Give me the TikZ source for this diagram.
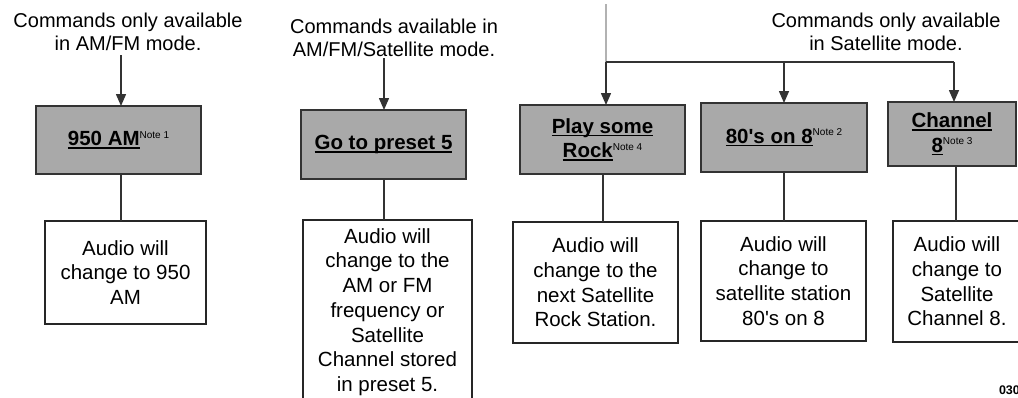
\documentclass[tikz,border=0pt]{standalone}
\usepackage{fontspec}
\setmainfont{Liberation Sans}
\usetikzlibrary{arrows.meta}
\definecolor{headfill}{HTML}{A9A9A9}
\definecolor{lineclr}{HTML}{333333}
\newcommand\myul[1]{\setbox0\hbox{#1}\rlap{\raisebox{-3pt}{\rule{\wd0}{1.6pt}}}\box0}
\newcommand\mynote[1]{\raisebox{7.5pt}{\fontsize{10}{10}\selectfont\mdseries Note #1}}
\tikzset{
  every node/.style={inner sep=0pt, outer sep=0pt},
  headbox/.style={draw=lineclr, line width=1.5pt, fill=headfill, align=center,
    font=\fontsize{20.5}{24.5}\selectfont\bfseries},
  resbox/.style={draw=black!85, line width=1.3pt, fill=white, align=center,
    font=\fontsize{20.5}{24.7}\selectfont},
  caption/.style={align=center, font=\fontsize{20}{23}\selectfont, anchor=base},
  conn/.style={draw=lineclr, line width=1.5pt},
  arr/.style={conn, -{Triangle[width=10pt,length=12pt]}},
}
\begin{document}
\begin{tikzpicture}[x=1pt,y=-1pt]
\useasboundingbox (0,0) rectangle (1018,397);
\clip (0,0) rectangle (1018,397);

% captions (anchor base = last line's baseline)
\node[caption] (t1) at (128,50) {Commands only available\\in AM/FM mode.};
\node[caption] (t2) at (394,56) {Commands available in\\AM/FM/Satellite mode.};
\node[caption] (t3) at (886,50) {Commands only available\\in Satellite mode.};

% heading boxes
\node[headbox, minimum width=165pt, minimum height=68pt] (h1) at (118.5,140) {\myul{950 AM}\mynote{1}};
\node[headbox, minimum width=165pt, minimum height=69pt] (h2) at (383.5,144.5) {\myul{Go to preset 5}};
\node[headbox, minimum width=165pt, minimum height=69pt] (h3) at (602.5,139.5) {\myul{Play some}\\\myul{Rock}\mynote{4}};
\node[headbox, minimum width=166pt, minimum height=69pt] (h4) at (784,137.5) {\myul{80\textquotesingle s on 8}\mynote{2}};
\node[headbox, minimum width=128pt, minimum height=64pt] (h5) at (952,134) {\myul{Channel}\\\myul{8}\mynote{3}};

% result boxes
\node[resbox, minimum width=161pt, minimum height=103pt] (r1) at (125.5,272.5) {Audio will\\change to 950\\AM};
\node[resbox, minimum width=169pt, minimum height=184pt] (r2) at (387.5,312) {Audio will\\change to the\\AM or FM\\frequency or\\Satellite\\Channel stored\\in preset 5.};
\node[resbox, minimum width=165pt, minimum height=121pt] (r3) at (595.5,282.5) {Audio will\\change to the\\next Satellite\\Rock Station.};
\node[resbox, minimum width=165pt, minimum height=120pt] (r4) at (783.5,281) {Audio will\\change to\\satellite station\\80\textquotesingle s on 8};
\node[resbox, minimum width=128pt, minimum height=121pt] (r5) at (957,281.5) {Audio will\\change to\\Satellite\\Channel 8.};

% code
\node[font=\fontsize{12.5}{12.5}\selectfont\bfseries, anchor=base west] (code) at (999,394) {030};

% connector positions
\coordinate (k1) at (121,0);
\coordinate (k2) at (384,0);
\coordinate (k3) at (606,0);
\coordinate (k4) at (784,0);
\coordinate (k5) at (954,0);
\coordinate (k3b) at (603,0);
\coordinate (k5b) at (956,0);
\coordinate (bus) at (0,62);
\coordinate (top) at (606,4);

% top arrows
\draw[arr] (t1.south -| k1) ++(0,5) -- (h1.north -| k1);
\draw[arr] (t2.south -| k2) ++(0,2) -- (h2.north -| k2);
\draw[draw=black!30, line width=1.8pt] (top) -- (bus -| k3);
\draw[conn] (bus -| k3) -- (bus -| k5);
\draw[arr] (bus -| k3) -- (h3.north -| k3);
\draw[arr] (bus -| k4) -- (h4.north -| k4);
\draw[arr] (bus -| k5) -- (h5.north -| k5);

% connectors to results
\draw[conn] (h1.south -| k1) -- (r1.north -| k1);
\draw[conn] (h2.south -| k2) -- (r2.north -| k2);
\draw[conn] (h3.south -| k3b) -- (r3.north -| k3b);
\draw[conn] (h4.south -| k4) -- (r4.north -| k4);
\draw[conn] (h5.south -| k5b) -- (r5.north -| k5b);
\end{tikzpicture}
\end{document}
